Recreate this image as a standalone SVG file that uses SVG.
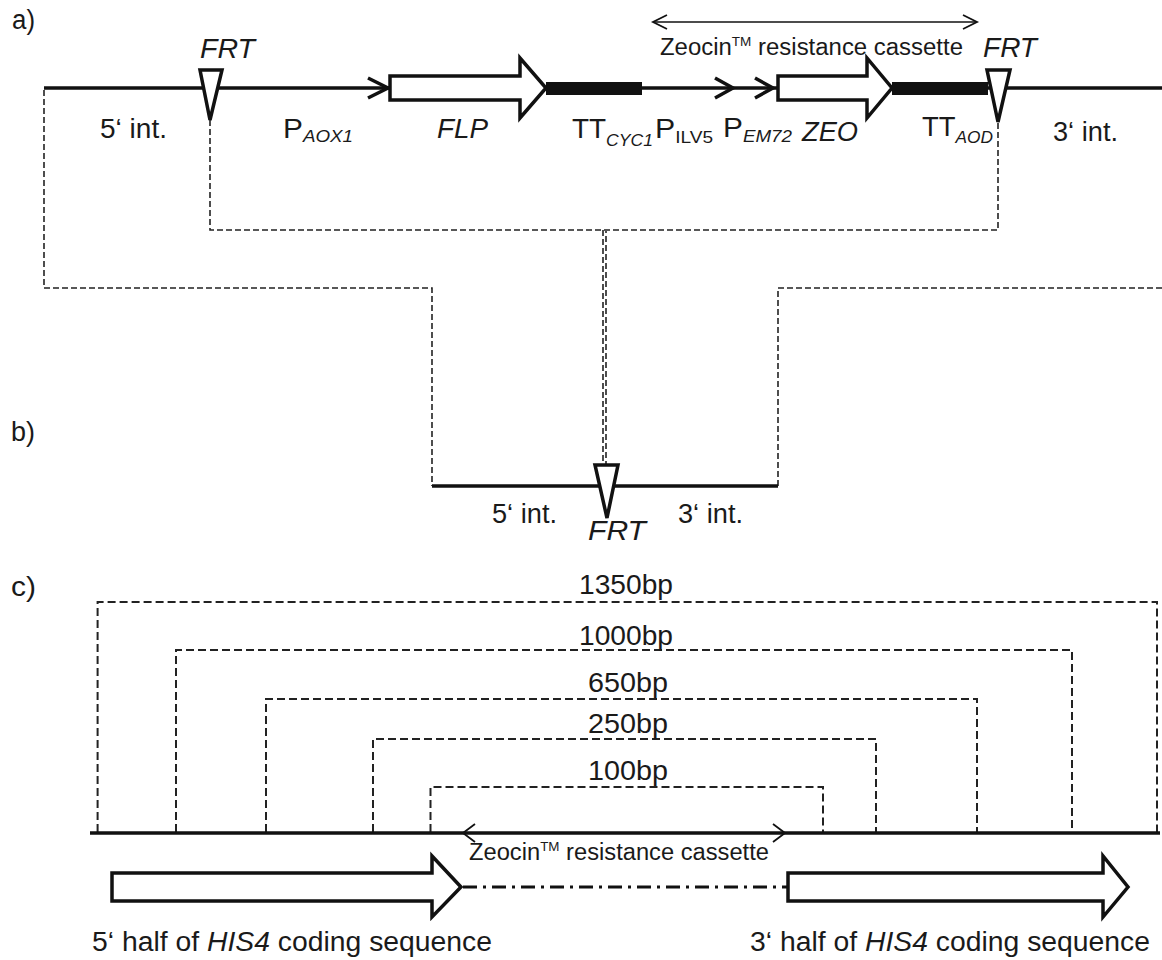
<svg xmlns="http://www.w3.org/2000/svg" width="1162" height="960" viewBox="0 0 1162 960">
<style>
text{font-family:"Liberation Sans",Arial,sans-serif;fill:#1a1a1a;font-size:27px}
.it{font-style:italic}
.sub{font-size:17px}
.z{font-size:23px}
.tm{font-size:13px}
.dna{stroke:#111;stroke-width:3.5;fill:none}
.bar{fill:#111}
.blk{fill:#fff;stroke:#111;stroke-width:3.5;stroke-linejoin:miter}
.chev{fill:none;stroke:#111;stroke-width:3.5;stroke-linejoin:miter}
.chevt{fill:none;stroke:#111;stroke-width:1.8;stroke-linejoin:miter}
.thin{fill:none;stroke:#111;stroke-width:1.6}
.dsh{fill:none;stroke:#222;stroke-width:1.6;stroke-dasharray:6 3}
.dshc{fill:none;stroke:#222;stroke-width:2;stroke-dasharray:8 4}
.dd{fill:none;stroke:#111;stroke-width:3;stroke-dasharray:14 6 3 6}
</style>
<g id="panel-labels">
<text x="12" y="29" font-size="25" textLength="23" lengthAdjust="spacingAndGlyphs">a)</text>
<text x="11" y="441" font-size="25" textLength="24" lengthAdjust="spacingAndGlyphs">b)</text>
<text x="11" y="596" font-size="25" textLength="25" lengthAdjust="spacingAndGlyphs">c)</text>
</g>
<g id="connectors">
<path class="dsh" d="M44,90 V288 H432 V486"/>
<path class="dsh" d="M210,120 V230 H998 V122"/>
<path class="dsh" d="M603,230 V465"/>
<path class="dsh" d="M606,231 V465" stroke-dashoffset="4"/>
<path class="dsh" d="M1162,288 H778 V486"/>
<path class="dshc" d="M97.6,832 V602 H1157 V832"/>
<path class="dshc" d="M176,832 V650 H1072 V832"/>
<path class="dshc" d="M266,832 V699 H977 V832"/>
<path class="dshc" d="M373,832 V739 H876 V832"/>
<path class="dshc" d="M430.5,832 V787 H823 V832"/>
</g>
<g id="construct-a">
<line class="dna" x1="44" y1="88" x2="1162" y2="88"/>
<g id="cassette-span">
<line class="thin" x1="653" y1="22" x2="977" y2="22"/>
<polyline class="chevt" points="667,15 653,22 667,29"/>
<polyline class="chevt" points="963,15 977,22 963,29"/>
<text class="z" x="660" y="55" textLength="303" lengthAdjust="spacingAndGlyphs">Zeocin<tspan class="tm" dy="-9">TM</tspan><tspan dy="9"> resistance cassette</tspan></text>
</g>
<g id="frt-left">
<polygon class="blk" points="200,70 222,70 210,120"/>
<text class="it" x="200" y="58" textLength="55" lengthAdjust="spacingAndGlyphs">FRT</text>
</g>
<g id="int5-a"><text x="100" y="138" textLength="67" lengthAdjust="spacingAndGlyphs">5‘ int.</text></g>
<g id="paox1">
<polyline class="chev" points="368,78 388,88 368,98"/>
<text x="283" y="138" textLength="70" lengthAdjust="spacingAndGlyphs">P<tspan class="sub it" dy="4">AOX1</tspan></text>
</g>
<g id="flp">
<polygon class="blk" points="390,76 520,76 520,58 546,88 520,118 520,100 390,100"/>
<text class="it" x="437" y="138" textLength="51" lengthAdjust="spacingAndGlyphs">FLP</text>
</g>
<g id="ttcyc1">
<rect class="bar" x="546" y="82" width="96" height="13"/>
<text x="572" y="138" textLength="81" lengthAdjust="spacingAndGlyphs">TT<tspan class="sub it" dy="8">CYC1</tspan></text>
</g>
<g id="pilv5">
<polyline class="chev" points="715,78 733,88 715,98"/>
<text x="655" y="138" textLength="58" lengthAdjust="spacingAndGlyphs">P<tspan class="sub" dy="5">ILV5</tspan></text>
</g>
<g id="pem72">
<polyline class="chev" points="755,78 773,88 755,98"/>
<text x="723" y="137" textLength="69" lengthAdjust="spacingAndGlyphs">P<tspan class="sub it" dy="5">EM72</tspan></text>
</g>
<g id="zeo">
<polygon class="blk" points="778,76 867,76 867,58 892,88 867,118 867,100 778,100"/>
<text class="it" x="802" y="141" textLength="56" lengthAdjust="spacingAndGlyphs">ZEO</text>
</g>
<g id="ttaod">
<rect class="bar" x="892" y="82" width="96" height="13"/>
<text x="922" y="136" textLength="71" lengthAdjust="spacingAndGlyphs">TT<tspan class="sub it" dy="7">AOD</tspan></text>
</g>
<g id="frt-right">
<polygon class="blk" points="987,70 1010,70 998,122"/>
<text class="it" x="983" y="57" textLength="54" lengthAdjust="spacingAndGlyphs">FRT</text>
</g>
<g id="int3-a"><text x="1053" y="141" textLength="65" lengthAdjust="spacingAndGlyphs">3‘ int.</text></g>
</g>
<g id="construct-b">
<line class="dna" x1="432" y1="486" x2="778" y2="486"/>
<g id="frt-b">
<polygon class="blk" points="595,465 618,465 607,518"/>
<text class="it" x="588" y="540" textLength="58" lengthAdjust="spacingAndGlyphs">FRT</text>
</g>
<text x="492" y="523" textLength="65" lengthAdjust="spacingAndGlyphs">5‘ int.</text>
<text x="678" y="523" textLength="65" lengthAdjust="spacingAndGlyphs">3‘ int.</text>
</g>
<g id="construct-c">
<line class="dna" x1="90" y1="833" x2="1160" y2="833"/>
<g id="cassette-c">
<polyline class="chevt" points="475,824 463,833 475,842"/>
<polyline class="chevt" points="773,824 785,833 773,842"/>
<text class="z" x="469" y="860" textLength="300" lengthAdjust="spacingAndGlyphs">Zeocin<tspan class="tm" dy="-9">TM</tspan><tspan dy="9"> resistance cassette</tspan></text>
</g>
<g id="sizes">
<text x="579" y="594" textLength="94" lengthAdjust="spacingAndGlyphs">1350bp</text>
<text x="579" y="645" textLength="94" lengthAdjust="spacingAndGlyphs">1000bp</text>
<text x="588" y="692" textLength="80" lengthAdjust="spacingAndGlyphs">650bp</text>
<text x="588" y="733" textLength="80" lengthAdjust="spacingAndGlyphs">250bp</text>
<text x="588" y="780" textLength="80" lengthAdjust="spacingAndGlyphs">100bp</text>
</g>
<g id="his4-5">
<polygon class="blk" points="112,873 432,873 432,856 461,887 432,917 432,901 112,901"/>
<text x="92" y="951" font-size="28" textLength="400" lengthAdjust="spacingAndGlyphs">5‘ half of <tspan class="it">HIS4</tspan> coding sequence</text>
</g>
<path class="dd" d="M463,887 H788"/>
<g id="his4-3">
<polygon class="blk" points="788,873 1103,873 1103,856 1128,887 1103,917 1103,901 788,901"/>
<text x="750" y="951" font-size="28" textLength="400" lengthAdjust="spacingAndGlyphs">3‘ half of <tspan class="it">HIS4</tspan> coding sequence</text>
</g>
</g>
</svg>
